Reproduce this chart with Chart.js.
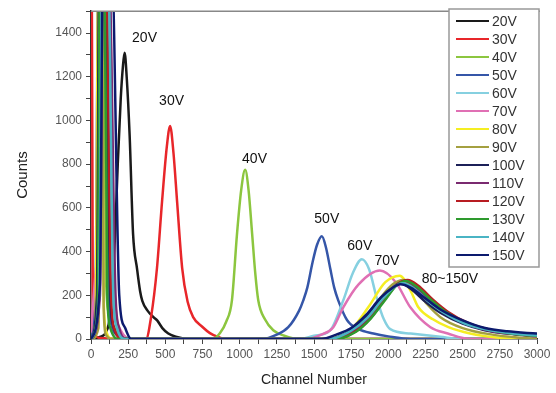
<!DOCTYPE html>
<html>
<head>
<meta charset="utf-8">
<script src="https://cdn.jsdelivr.net/npm/chart.js@4.4.0/dist/chart.umd.min.js"></script>
<style>
  html, body { margin: 0; padding: 0; background: #fff; }
  #wrap { width: 556px; height: 393px; position: relative; }
</style>
</head>
<body>
<div id="wrap"><canvas id="spectra"></canvas></div>
<script>
// series labels and colours
const voltages = ['20V', '30V', '40V', '50V', '60V', '70V', '80V', '90V', '100V', '110V', '120V', '130V', '140V', '150V'];
const colors = ['#1a1a1a', '#e8262a', '#8cc63f', '#3556a8', '#86d0e0', '#e070b4', '#f5ee22', '#a4a040',
                '#1c2058', '#7a2a70', '#b81c22', '#2e9a2e', '#4ab4c4', '#0c1a6e'];

// channel / counts, one pair per voltage
const ch20 = [0, 60, 100, 130, 160, 180, 200, 215, 226, 240, 260, 283, 310, 330, 345, 380, 420, 445, 480, 520, 570, 650, 3000];
const n20  = [0, 10, 30, 120, 450, 800, 1100, 1250, 1310, 1200, 930, 480, 320, 220, 175, 130, 100, 85, 50, 25, 10, 0, 0];

const ch30 = [0, 5, 12, 20, 60, 370, 404, 444, 478, 510, 532, 555, 579, 613, 650, 687, 750, 800, 860, 900, 3000];
const n30  = [1700, 1700, 200, 30, 5, 0, 100, 326, 630, 880, 975, 850, 630, 326, 170, 100, 55, 27, 8, 0, 0];

const ch40 = [0, 40, 60, 85, 100, 120, 150, 200, 300, 820, 868, 910, 948, 982, 1010, 1037, 1060, 1084, 1105, 1125, 1170, 1226, 1300, 1400, 3000];
const n40  = [0, 100, 1700, 1700, 300, 120, 60, 20, 0, 0, 27, 80, 177, 480, 680, 774, 680, 480, 300, 177, 90, 40, 15, 0, 0];

const ch50 = [0, 30, 50, 90, 120, 140, 180, 250, 1150, 1250, 1327, 1400, 1428, 1455, 1490, 1520, 1553, 1580, 1610, 1636, 1663, 1723, 1800, 1900, 2000, 2150, 3000];
const n50  = [0, 200, 1700, 1700, 200, 60, 15, 0, 0, 20, 54, 130, 177, 235, 350, 430, 470, 420, 320, 235, 177, 86, 45, 25, 12, 0, 0];

const ch60 = [0, 40, 70, 110, 150, 180, 230, 300, 1400, 1500, 1609, 1697, 1760, 1822, 1870, 1926, 1970, 2013, 2150, 2350, 2500, 3000];
const n60  = [0, 150, 1700, 1700, 200, 50, 10, 0, 0, 15, 40, 177, 300, 365, 320, 177, 90, 45, 25, 10, 0, 0];

const ch70 = [0, 30, 55, 70, 120, 160, 200, 260, 1450, 1550, 1630, 1697, 1800, 1943, 2050, 2148, 2283, 2400, 2550, 3000];
const n70  = [30, 300, 600, 1700, 1700, 200, 40, 0, 0, 20, 54, 145, 250, 313, 260, 145, 54, 25, 0, 0];

const ch80 = [0, 30, 50, 70, 85, 100, 150, 1550, 1700, 1765, 1865, 1980, 2077, 2150, 2202, 2300, 2404, 2550, 2750, 2900, 3000];
const n80  = [0, 80, 1700, 1700, 200, 40, 0, 0, 20, 54, 145, 260, 290, 220, 145, 90, 54, 25, 5, 0, 0];

const ch90 = [0, 50, 65, 75, 85, 100, 140, 1600, 1750, 1850, 1950, 2030, 2100, 2180, 2260, 2350, 2500, 2700, 2900, 3000];
const n90  = [0, 50, 1700, 1700, 150, 20, 0, 0, 30, 90, 190, 250, 270, 230, 160, 100, 50, 20, 5, 0];

const ch100 = [0, 40, 55, 95, 130, 150, 200, 260, 1600, 1750, 1850, 1950, 2030, 2080, 2150, 2250, 2350, 2500, 2650, 2800, 3000];
const n100  = [0, 200, 1700, 1700, 200, 60, 10, 0, 0, 40, 100, 180, 235, 255, 230, 170, 120, 70, 40, 25, 15];

const ch110 = [0, 60, 80, 120, 165, 190, 240, 1620, 1760, 1870, 1970, 2050, 2110, 2180, 2280, 2380, 2520, 2680, 2850, 3000];
const n110  = [0, 200, 1700, 1700, 200, 50, 0, 0, 35, 95, 185, 245, 265, 240, 175, 120, 70, 38, 22, 12];

const ch120 = [0, 50, 65, 100, 135, 160, 220, 1640, 1780, 1880, 1980, 2060, 2130, 2200, 2300, 2400, 2540, 2700, 2870, 3000];
const n120  = [0, 150, 1700, 1700, 200, 40, 0, 0, 35, 95, 185, 250, 270, 245, 180, 125, 72, 40, 22, 14];

const ch130 = [0, 45, 60, 90, 110, 130, 180, 1640, 1780, 1880, 1980, 2055, 2120, 2190, 2290, 2390, 2530, 2690, 2860, 3000];
const n130  = [0, 150, 1700, 1700, 200, 50, 0, 0, 32, 92, 180, 245, 265, 240, 178, 122, 70, 40, 22, 14];

const ch140 = [0, 55, 75, 115, 150, 175, 230, 1600, 1750, 1860, 1960, 2040, 2100, 2170, 2270, 2370, 2510, 2670, 2840, 3000];
const n140  = [0, 200, 1700, 1700, 200, 50, 0, 0, 38, 98, 182, 238, 255, 232, 172, 122, 72, 42, 25, 16];

const ch150 = [0, 60, 80, 140, 190, 230, 270, 1550, 1650, 1750, 1850, 1950, 2030, 2080, 2150, 2250, 2350, 2500, 2650, 2800, 3000];
const n150  = [0, 250, 1700, 1700, 200, 50, 0, 0, 20, 50, 110, 190, 235, 250, 235, 185, 135, 85, 50, 35, 25];

const channels = [ch20, ch30, ch40, ch50, ch60, ch70, ch80, ch90, ch100, ch110, ch120, ch130, ch140, ch150];
const counts   = [n20, n30, n40, n50, n60, n70, n80, n90, n100, n110, n120, n130, n140, n150];

// axis ticks
const xTickLabels = [0, 250, 500, 750, 1000, 1250, 1500, 1750, 2000, 2250, 2500, 2750, 3000];
const yTickLabels = [0, 200, 400, 600, 800, 1000, 1200, 1400];

// peak annotations (text, channel, counts)
const peakTexts  = ['20V', '30V', '40V', '50V', '60V', '70V', '80~150V'];
const peakTextCh = [360, 542, 1100, 1586, 1808, 1990, 2414];
const peakTextN  = [1377, 1087, 825, 548, 426, 358, 276];

const FONT = '"Liberation Sans", Arial, sans-serif';

const overlay = {
    id: 'overlay',
    afterDatasetsDraw(chart) {
        const ctx = chart.ctx;
        const xs = chart.scales.x, ys = chart.scales.y;
        const area = chart.chartArea;
        ctx.save();

        // top frame
        ctx.strokeStyle = '#888';
        ctx.lineWidth = 1.5;
        ctx.beginPath();
        ctx.moveTo(area.left, area.top);
        ctx.lineTo(area.right + 3, area.top);
        ctx.stroke();

        // peak labels
        ctx.fillStyle = '#111';
        ctx.font = '14px ' + FONT;
        ctx.textAlign = 'center';
        ctx.textBaseline = 'middle';
        peakTexts.forEach((t, i) => {
            ctx.fillText(t, xs.getPixelForValue(peakTextCh[i]), ys.getPixelForValue(peakTextN[i]));
        });

        // legend box
        const bx = 449, by = 9, bw = 90, rowH = 18;
        const bh = rowH * voltages.length + 6;
        ctx.fillStyle = '#fff';
        ctx.fillRect(bx, by, bw, bh);
        ctx.strokeStyle = '#999';
        ctx.lineWidth = 1.5;
        ctx.strokeRect(bx, by, bw, bh);
        ctx.textAlign = 'left';
        ctx.font = '14px ' + FONT;
        chart.data.datasets.forEach((ds, i) => {
            const y = by + 12 + i * rowH;
            ctx.strokeStyle = ds.borderColor;
            ctx.lineWidth = 2;
            ctx.beginPath();
            ctx.moveTo(bx + 7, y);
            ctx.lineTo(bx + 40, y);
            ctx.stroke();
            ctx.fillStyle = '#333';
            ctx.fillText(ds.label, bx + 43, y + 1);
        });
        ctx.restore();
    }
};

document.addEventListener('DOMContentLoaded', function() {
    const datasets = voltages.map((v, i) => ({
        label: v,
        data: channels[i].map((c, k) => ({ x: c, y: counts[i][k] })),
        borderColor: colors[i],
        backgroundColor: colors[i],
        borderWidth: 2.5,
        pointRadius: 0,
        cubicInterpolationMode: 'monotone',
        order: voltages.length - 1 - i
    }));

    new Chart(document.getElementById('spectra'), {
        type: 'line',
        data: { datasets: datasets },
        options: {
            responsive: true,
            maintainAspectRatio: false,
            animation: false,
            layout: { padding: { left: 0, top: 9, right: 19, bottom: 0 } },
            plugins: {
                legend: { display: false },
                tooltip: { enabled: false }
            },
            scales: {
                x: {
                    type: 'linear',
                    min: 0,
                    max: 3000,
                    afterFit: s => { s.height = 54; },
                    ticks: {
                        stepSize: 125,
                        autoSkip: false,
                        maxRotation: 0,
                        padding: 3,
                        color: '#555',
                        font: { family: FONT, size: 12 },
                        callback: v => xTickLabels.includes(v) ? v : ''
                    },
                    grid: { drawOnChartArea: false, tickLength: 5, color: '#444' },
                    border: { color: '#333', width: 1.5 },
                    title: {
                        display: true,
                        text: 'Channel Number',
                        color: '#222',
                        font: { family: FONT, size: 14 },
                        padding: { top: 9 }
                    }
                },
                y: {
                    min: 0,
                    max: 1500,
                    afterFit: s => { s.width = 91; },
                    ticks: {
                        stepSize: 100,
                        autoSkip: false,
                        padding: 4,
                        color: '#555',
                        font: { family: FONT, size: 12 },
                        callback: v => yTickLabels.includes(v) ? v : ''
                    },
                    grid: { drawOnChartArea: false, tickLength: 5, color: '#444' },
                    border: { color: '#333', width: 1.5 },
                    title: {
                        display: true,
                        text: 'Counts',
                        color: '#222',
                        font: { family: FONT, size: 15 },
                        padding: { top: 14, bottom: 0 }
                    }
                }
            }
        },
        plugins: [overlay]
    });
});
</script>
</body>
</html>
